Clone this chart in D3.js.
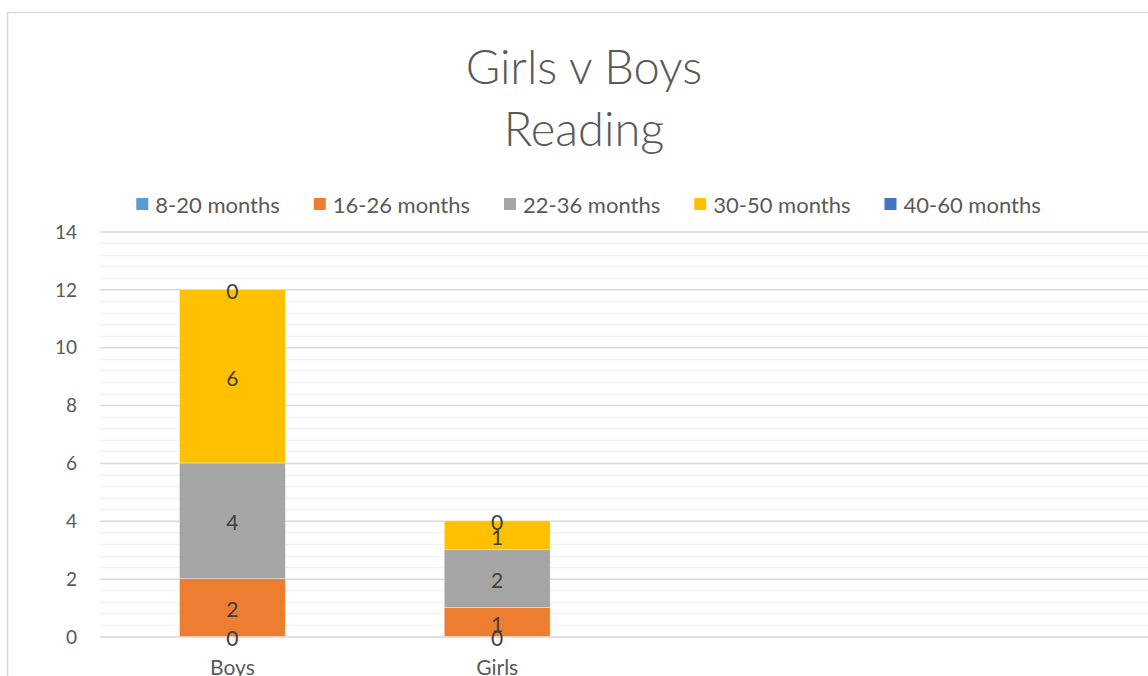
<!DOCTYPE html>
<html>
<head>
<meta charset="utf-8">
<script src="https://cdn.jsdelivr.net/npm/d3@7"></script>
<style>
  html, body { margin: 0; padding: 0; background: #fff; overflow: hidden; }
  svg { display: block; }
  text { font-family: Lato, "Open Sans", sans-serif; }
</style>
</head>
<body>
<svg id="chart" width="1148" height="676"></svg>
<script>
// ---- data ----
const categories = ["Boys", "Girls"];
const seriesNames = ["8-20 months", "16-26 months", "22-36 months", "30-50 months", "40-60 months"];
const seriesColors = ["#5B9BD5", "#ED7D31", "#A5A5A5", "#FFC000", "#4472C4"];
const s8_20 = [0, 0];
const s16_26 = [2, 1];
const s22_36 = [4, 2];
const s30_50 = [6, 1];
const s40_60 = [0, 0];
const yTicks = [0, 2, 4, 6, 8, 10, 12, 14];
const titleLines = ["Girls v Boys", "Reading"];

const seriesValues = [s8_20, s16_26, s22_36, s30_50, s40_60];
const table = categories.map((c, i) => {
  const row = { category: c };
  seriesNames.forEach((s, j) => row[s] = seriesValues[j][i]);
  return row;
});

const svg = d3.select("#chart");

// chart border (clipped to the right/bottom)
svg.append("rect").attr("x", 7.5).attr("y", 12.5).attr("width", 1200).attr("height", 800)
  .attr("fill", "#fff").attr("stroke", "#d9d9d9").attr("stroke-width", 1.5);

// plot geometry
const plotLeft = 100, plotRight = 1160;
const bandW = 264.8;
const x = d3.scaleBand().domain(categories).range([plotLeft, plotLeft + bandW * categories.length])
  .paddingInner(0.6).paddingOuter(0.3);
const y = d3.scaleLinear().domain([0, 14]).range([636.5, 231.5]);

// minor gridlines
const minor = d3.range(0, 14.001, 0.4).filter(v => Math.abs(v / 2 - Math.round(v / 2)) > 1e-6);
svg.append("g").selectAll("line").data(minor).join("line")
  .attr("x1", plotLeft).attr("x2", plotRight)
  .attr("y1", d => Math.round(y(d)) + 0.5).attr("y2", d => Math.round(y(d)) + 0.5)
  .attr("stroke", "#f2f2f2").attr("stroke-width", 1.5);

// major gridlines via axis
const yAxis = d3.axisLeft(y).tickValues(yTicks).tickSize(-(plotRight - plotLeft)).tickPadding(23).tickFormat(d3.format("d"));
const gy = svg.append("g").attr("transform", `translate(${plotLeft},0)`).call(yAxis);
gy.select(".domain").remove();
gy.selectAll(".tick line").attr("stroke", "#d9d9d9").attr("stroke-width", 1.5);
gy.selectAll(".tick text").attr("fill", "#595959").style("font-size", "19px")
  .style("font-family", "Lato, 'Open Sans', sans-serif").attr("dy", "0.35em");

// stacked bars
const stack = d3.stack().keys(seriesNames);
const stacked = stack(table);
const gBars = svg.append("g");
stacked.forEach((layer, j) => {
  gBars.append("g").selectAll("rect").data(layer).join("rect")
    .attr("x", d => x(d.data.category))
    .attr("width", x.bandwidth())
    .attr("y", d => y(d[1]))
    .attr("height", d => y(d[0]) - y(d[1]))
    .attr("fill", seriesColors[j])
    .attr("stroke", d => (d[1] - d[0]) > 0 ? "rgba(255,255,255,0.5)" : "none")
    .attr("stroke-width", 0.75);
});

// data labels
stacked.forEach((layer, j) => {
  gBars.append("g").selectAll("text").data(layer).join("text")
    .attr("x", d => x(d.data.category) + x.bandwidth() / 2)
    .attr("y", d => y((d[0] + d[1]) / 2) + 1)
    .attr("text-anchor", "middle")
    .attr("dominant-baseline", "central")
    .attr("fill", "#404040")
    .style("font-size", "21px")
    .text(d => d[1] - d[0]);
});

// x axis labels
const xAxis = d3.axisBottom(x).tickSize(0).tickPadding(24);
const gx = svg.append("g").attr("transform", `translate(0,${y(0)})`).call(xAxis);
gx.select(".domain").remove();
gx.selectAll(".tick text").attr("fill", "#595959").style("font-size", "21px")
  .style("font-family", "Lato, 'Open Sans', sans-serif");

// title
const title = svg.append("text").attr("text-anchor", "middle").attr("fill", "#595959")
  .style("font-size", "47px").style("font-weight", 300);
titleLines.forEach((t, i) => {
  title.append("tspan").attr("x", 584).attr("y", 84 + i * 62).text(t);
});

// legend
const legend = svg.append("g");
const items = legend.selectAll("g").data(seriesNames).join("g");
items.append("rect").attr("width", 12).attr("height", 12).attr("y", 198)
  .attr("fill", (d, i) => seriesColors[i]);
items.append("text").attr("x", 19).attr("y", 212.5).attr("fill", "#595959")
  .style("font-size", "22px").text(d => d);
let widths = [];
items.each(function() { widths.push(this.querySelector("text").getComputedTextLength() + 19); });
const gap = 34;
const total = d3.sum(widths) + gap * (widths.length - 1);
let cx = 588.5 - total / 2;
items.each(function(d, i) {
  d3.select(this).attr("transform", `translate(${cx},0)`);
  cx += widths[i] + gap;
});
</script>
</body>
</html>
